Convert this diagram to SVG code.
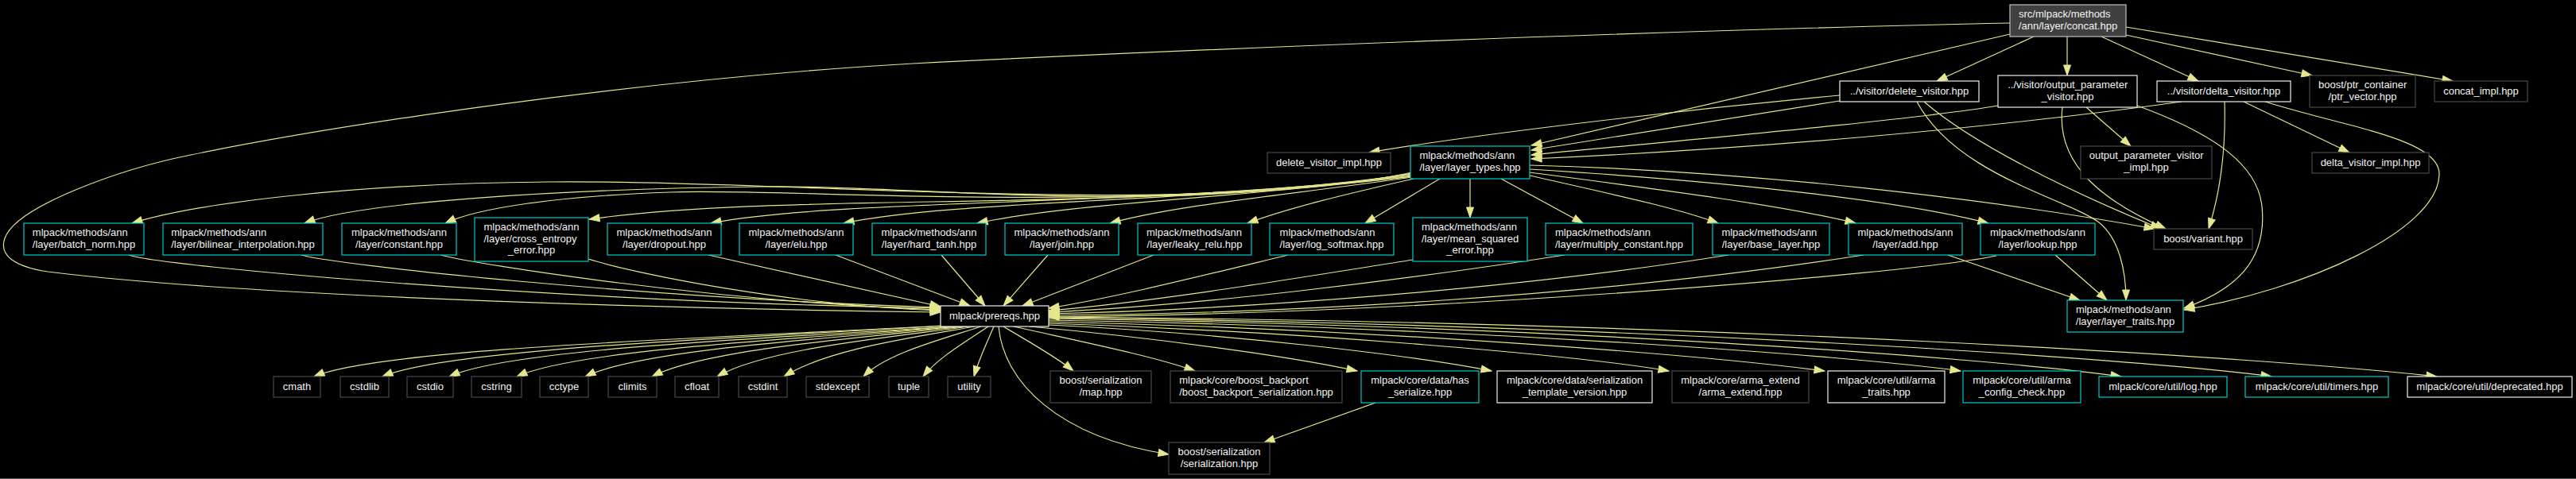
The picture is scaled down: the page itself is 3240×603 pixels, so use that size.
<svg xmlns="http://www.w3.org/2000/svg" width="3240" height="603" viewBox="0 0 3240 603">
<style>
text{font-family:"Liberation Sans",Arial,sans-serif;font-size:13px;fill:#f2f2f2}
.m{text-anchor:middle}
rect{fill:#000;stroke-width:1.2}
.cy{stroke:#00cccc}
.wh{stroke:#f0f0f0}
.dk{stroke:#484848}
.e{fill:none;stroke:#e6e68c;stroke-width:1.2;marker-end:url(#ah)}
</style>
<defs>
<marker id="ah" markerUnits="userSpaceOnUse" markerWidth="14" markerHeight="11" refX="13" refY="5" orient="auto" overflow="visible">
<path d="M0,0.5 L13,5 L0,9.5 z" fill="#e6e68c" stroke="#e6e68c" stroke-width="1"/>
</marker>
</defs>
<rect x="0" y="0" width="3240" height="603" style="fill:#000;stroke:none"/>
<line x1="0" y1="602.5" x2="3240" y2="602.5" stroke="#555" stroke-width="1"/>
<g id="edges">
<path class="e" d="M2528,29 C2100,38 1500,62 1148,80 C800,100 420,158 240,195 C150,213 20,260 6,300 C-2,322 20,336 60,342 C300,372 800,388 1183,393"/>
<path class="e" d="M2528,43 L1926,183"/>
<path class="e" d="M2558,46 L2436,102"/>
<path class="e" d="M2600,46 L2600,95"/>
<path class="e" d="M2643,46 L2765,102"/>
<path class="e" d="M2674,44 L2908,95"/>
<path class="e" d="M2674,34 L3085,102"/>
<path class="e" d="M2314,127 L1926,189"/>
<path class="e" d="M2314,120 C2100,140 1850,170 1722,192"/>
<path class="e" d="M2513,133 C2400,152 2100,178 1926,195"/>
<path class="e" d="M2744,128 C2500,162 2200,188 1926,200"/>
<path class="e" d="M2420,128 C2480,180 2600,240 2718,288"/>
<path class="e" d="M2411,128 C2460,220 2600,250 2640,280 C2665,300 2674,340 2674,378"/>
<path class="e" d="M2594,135 C2585,210 2650,255 2724,288"/>
<path class="e" d="M2688,133 C2790,170 2840,210 2845,260 C2852,330 2810,365 2747,388"/>
<path class="e" d="M2624,135 L2680,184"/>
<path class="e" d="M2822,128 L2955,192"/>
<path class="e" d="M2798,128 C2800,200 2790,250 2778,288"/>
<path class="e" d="M2849,128 C2950,160 3070,175 3068,220 C3066,290 2900,365 2747,390"/>
<path class="e" d="M1924,208 C2200,215 2500,250 2710,288"/>
<path class="e" d="M1924,213 C2200,230 2400,255 2501,281"/>
<path class="e" d="M1924,217 C2100,240 2250,260 2334,281"/>
<path class="e" d="M1924,221 C2030,245 2110,262 2161,281"/>
<path class="e" d="M1888,225 L1991,281"/>
<path class="e" d="M1849,225 L1849,274"/>
<path class="e" d="M1811,225 L1717,281"/>
<path class="e" d="M1778,225 C1690,245 1620,262 1569,281"/>
<path class="e" d="M1776,223 C1600,248 1480,258 1396,281"/>
<path class="e" d="M1776,222 C1550,250 1350,255 1229,281"/>
<path class="e" d="M1776,222 C1500,255 1200,252 1061,281"/>
<path class="e" d="M1776,221 C1450,260 1050,250 894,281"/>
<path class="e" d="M1776,220 C1400,270 1000,240 741,276"/>
<path class="e" d="M1776,219 C1400,272 1000,236 842,242 C700,247 600,262 560,281"/>
<path class="e" d="M1776,218 C1450,274 1150,232 960,235 C700,238 450,255 383,281"/>
<path class="e" d="M1776,217 C1500,275 1000,226 689,229 C450,231 250,255 166,281"/>
<path class="e" d="M162,321 C200,335 700,380 1183,388"/>
<path class="e" d="M379,321 C420,333 800,375 1183,387"/>
<path class="e" d="M554,321 C600,333 900,380 1183,390"/>
<path class="e" d="M740,326 C800,345 1000,385 1183,391"/>
<path class="e" d="M891,321 L1183,386"/>
<path class="e" d="M1051,321 L1220,385"/>
<path class="e" d="M1184,321 L1239,385"/>
<path class="e" d="M1318,321 L1262,385"/>
<path class="e" d="M1451,321 L1286,385"/>
<path class="e" d="M1620,321 C1500,350 1400,375 1319,388"/>
<path class="e" d="M1777,327 C1600,355 1450,380 1319,391"/>
<path class="e" d="M1968,321 C1750,355 1500,385 1319,393"/>
<path class="e" d="M2174,321 C1900,365 1550,390 1319,395"/>
<path class="e" d="M2344,321 C2000,375 1600,395 1319,397"/>
<path class="e" d="M2511,322 C2400,345 1800,395 1319,399"/>
<path class="e" d="M2450,321 L2616,378"/>
<path class="e" d="M2585,321 L2650,378"/>
<path class="e" d="M1186,410 C909,425 480,438 395,474"/>
<path class="e" d="M1190,410 C942,425 566,438 481,474"/>
<path class="e" d="M1195,411 C975,426 645,438 565,474"/>
<path class="e" d="M1200,411 C1008,426 725,440 650,474"/>
<path class="e" d="M1206,411 C1042,426 806,440 736,474"/>
<path class="e" d="M1212,411 C1075,426 885,440 820,474"/>
<path class="e" d="M1219,411 C1108,426 960,440 902,474"/>
<path class="e" d="M1226,411 C1142,426 1040,440 986,474"/>
<path class="e" d="M1234,411 C1182,428 1115,445 1086,474"/>
<path class="e" d="M1243,411 C1215,430 1180,450 1161,474"/>
<path class="e" d="M1250,411 C1242,430 1232,450 1225,474"/>
<path class="e" d="M1256,411 C1262,480 1330,550 1470,572"/>
<path class="e" d="M1262,411 C1290,428 1330,450 1350,467"/>
<path class="e" d="M1275,411 C1350,428 1450,448 1503,467"/>
<path class="e" d="M1295,411 C1450,425 1620,448 1707,467"/>
<path class="e" d="M1319,409 C1550,420 1780,448 1876,467"/>
<path class="e" d="M1319,407 C1650,418 1990,448 2099,467"/>
<path class="e" d="M1319,405 C1750,415 2150,448 2295,467"/>
<path class="e" d="M1319,403 C1850,412 2330,448 2466,467"/>
<path class="e" d="M1319,401 C1950,410 2500,450 2668,474"/>
<path class="e" d="M1319,400 C2050,408 2700,452 2857,474"/>
<path class="e" d="M1319,399 C2150,405 2850,450 3065,474"/>
<path class="e" d="M1730,507 L1590,557"/>
</g>
<g id="n_concat"><rect x="2528" y="6" width="146" height="40" style="fill:#404040;stroke:#c0c0c0"/><text x="2539" y="22.3">src/mlpack/methods</text><text class="m" x="2601" y="36.6">/ann/layer/concat.hpp</text></g>
<g id="n_delete_visitor"><rect class="wh" x="2314" y="102" width="175" height="26"/><text class="m" x="2401.5" y="119">../visitor/delete_visitor.hpp</text></g>
<g id="n_output_parameter_visitor"><rect class="wh" x="2513" y="95" width="175" height="40"/><text x="2525.2" y="111.3">../visitor/output_parameter</text><text class="m" x="2600.5" y="125.6">_visitor.hpp</text></g>
<g id="n_delta_visitor"><rect class="wh" x="2713" y="102" width="168" height="26"/><text class="m" x="2797" y="119">../visitor/delta_visitor.hpp</text></g>
<g id="n_ptr_vector"><rect class="dk" x="2905" y="95" width="133" height="40"/><text x="2916" y="111.3">boost/ptr_container</text><text class="m" x="2971.5" y="125.6">/ptr_vector.hpp</text></g>
<g id="n_concat_impl"><rect class="dk" x="3062" y="102" width="117" height="26"/><text class="m" x="3120.5" y="119">concat_impl.hpp</text></g>
<g id="n_delete_visitor_impl"><rect class="dk" x="1594" y="192" width="155" height="26"/><text class="m" x="1671.5" y="209">delete_visitor_impl.hpp</text></g>
<g id="n_layer_types"><rect class="cy" x="1774" y="184" width="150" height="41"/><text x="1785.4" y="200.3">mlpack/methods/ann</text><text class="m" x="1849" y="214.6">/layer/layer_types.hpp</text></g>
<g id="n_output_parameter_visitor_impl"><rect class="dk" x="2617" y="184" width="165" height="41"/><text x="2627.8" y="200.3">output_parameter_visitor</text><text class="m" x="2699.5" y="214.6">_impl.hpp</text></g>
<g id="n_delta_visitor_impl"><rect class="dk" x="2908" y="192" width="147" height="26"/><text class="m" x="2981.5" y="209">delta_visitor_impl.hpp</text></g>
<g id="n_batch_norm"><rect class="cy" x="30" y="281" width="151" height="40"/><text x="40.8" y="297.3">mlpack/methods/ann</text><text class="m" x="105.5" y="311.6">/layer/batch_norm.hpp</text></g>
<g id="n_bilinear"><rect class="cy" x="205" y="281" width="201" height="40"/><text x="215.2" y="297.3">mlpack/methods/ann</text><text class="m" x="305.5" y="311.6">/layer/bilinear_interpolation.hpp</text></g>
<g id="n_constant"><rect class="cy" x="430" y="281" width="144" height="40"/><text x="442" y="297.3">mlpack/methods/ann</text><text class="m" x="502" y="311.6">/layer/constant.hpp</text></g>
<g id="n_cross_entropy"><rect class="cy" x="597" y="274" width="143" height="55"/><text x="608.5" y="290.3">mlpack/methods/ann</text><text x="608.5" y="304.6">/layer/cross_entropy</text><text class="m" x="668.5" y="318.9">_error.hpp</text></g>
<g id="n_dropout"><rect class="cy" x="764" y="281" width="143" height="40"/><text x="775.5" y="297.3">mlpack/methods/ann</text><text class="m" x="835.5" y="311.6">/layer/dropout.hpp</text></g>
<g id="n_elu"><rect class="cy" x="930" y="281" width="143" height="40"/><text x="941.5" y="297.3">mlpack/methods/ann</text><text class="m" x="1001.5" y="311.6">/layer/elu.hpp</text></g>
<g id="n_hard_tanh"><rect class="cy" x="1097" y="281" width="143" height="40"/><text x="1108.5" y="297.3">mlpack/methods/ann</text><text class="m" x="1168.5" y="311.6">/layer/hard_tanh.hpp</text></g>
<g id="n_join"><rect class="cy" x="1264" y="281" width="143" height="40"/><text x="1275.5" y="297.3">mlpack/methods/ann</text><text class="m" x="1335.5" y="311.6">/layer/join.hpp</text></g>
<g id="n_leaky_relu"><rect class="cy" x="1431" y="281" width="143" height="40"/><text x="1442" y="297.3">mlpack/methods/ann</text><text class="m" x="1502.5" y="311.6">/layer/leaky_relu.hpp</text></g>
<g id="n_log_softmax"><rect class="cy" x="1597" y="281" width="156" height="40"/><text x="1609.6" y="297.3">mlpack/methods/ann</text><text class="m" x="1675" y="311.6">/layer/log_softmax.hpp</text></g>
<g id="n_mean_squared"><rect class="cy" x="1777" y="274" width="144" height="55"/><text x="1788" y="290.3">mlpack/methods/ann</text><text x="1788" y="304.6">/layer/mean_squared</text><text class="m" x="1849" y="318.9">_error.hpp</text></g>
<g id="n_multiply_constant"><rect class="cy" x="1944" y="281" width="185" height="40"/><text x="1956" y="297.3">mlpack/methods/ann</text><text class="m" x="2036.5" y="311.6">/layer/multiply_constant.hpp</text></g>
<g id="n_base_layer"><rect class="cy" x="2154" y="281" width="147" height="40"/><text x="2165.4" y="297.3">mlpack/methods/ann</text><text class="m" x="2227.5" y="311.6">/layer/base_layer.hpp</text></g>
<g id="n_add"><rect class="cy" x="2325" y="281" width="143" height="40"/><text x="2336.5" y="297.3">mlpack/methods/ann</text><text class="m" x="2396.5" y="311.6">/layer/add.hpp</text></g>
<g id="n_lookup"><rect class="cy" x="2491" y="281" width="144" height="40"/><text x="2503" y="297.3">mlpack/methods/ann</text><text class="m" x="2563" y="311.6">/layer/lookup.hpp</text></g>
<g id="n_variant"><rect class="dk" x="2709" y="288" width="124" height="26"/><text class="m" x="2771" y="305">boost/variant.hpp</text></g>
<g id="n_prereqs"><rect class="wh" x="1183" y="385" width="136" height="26"/><text class="m" x="1251" y="402">mlpack/prereqs.hpp</text></g>
<g id="n_layer_traits"><rect class="cy" x="2600" y="378" width="146" height="40"/><text x="2610.9" y="394.3">mlpack/methods/ann</text><text class="m" x="2673" y="408.6">/layer/layer_traits.hpp</text></g>
<g id="n_cmath"><rect class="dk" x="344" y="474" width="59" height="26"/><text class="m" x="373.5" y="491">cmath</text></g>
<g id="n_cstdlib"><rect class="dk" x="428" y="474" width="61" height="26"/><text class="m" x="458.5" y="491">cstdlib</text></g>
<g id="n_cstdio"><rect class="dk" x="512" y="474" width="58" height="26"/><text class="m" x="541" y="491">cstdio</text></g>
<g id="n_cstring"><rect class="dk" x="593" y="474" width="63" height="26"/><text class="m" x="624.5" y="491">cstring</text></g>
<g id="n_cctype"><rect class="dk" x="679" y="474" width="61" height="26"/><text class="m" x="709.5" y="491">cctype</text></g>
<g id="n_climits"><rect class="dk" x="765" y="474" width="61" height="26"/><text class="m" x="795.5" y="491">climits</text></g>
<g id="n_cfloat"><rect class="dk" x="849" y="474" width="55" height="26"/><text class="m" x="876.5" y="491">cfloat</text></g>
<g id="n_cstdint"><rect class="dk" x="929" y="474" width="61" height="26"/><text class="m" x="959.5" y="491">cstdint</text></g>
<g id="n_stdexcept"><rect class="dk" x="1014" y="474" width="79" height="26"/><text class="m" x="1053.5" y="491">stdexcept</text></g>
<g id="n_tuple"><rect class="dk" x="1118" y="474" width="50" height="26"/><text class="m" x="1143" y="491">tuple</text></g>
<g id="n_utility"><rect class="dk" x="1192" y="474" width="54" height="26"/><text class="m" x="1219" y="491">utility</text></g>
<g id="n_map"><rect class="dk" x="1321" y="467" width="127" height="40"/><text x="1332.5" y="483.3">boost/serialization</text><text class="m" x="1384.5" y="497.6">/map.hpp</text></g>
<g id="n_boost_backport"><rect class="dk" x="1472" y="467" width="216" height="40"/><text x="1483.2" y="483.3">mlpack/core/boost_backport</text><text class="m" x="1580" y="497.6">/boost_backport_serialization.hpp</text></g>
<g id="n_has_serialize"><rect class="cy" x="1712" y="467" width="148" height="40"/><text x="1724.2" y="483.3">mlpack/core/data/has</text><text class="m" x="1786" y="497.6">_serialize.hpp</text></g>
<g id="n_serialization_template_version"><rect class="wh" x="1883" y="467" width="195" height="40"/><text x="1894.9" y="483.3">mlpack/core/data/serialization</text><text class="m" x="1980.5" y="497.6">_template_version.hpp</text></g>
<g id="n_arma_extend"><rect class="dk" x="2103" y="467" width="172" height="40"/><text x="2114.2" y="483.3">mlpack/core/arma_extend</text><text class="m" x="2189" y="497.6">/arma_extend.hpp</text></g>
<g id="n_arma_traits"><rect class="wh" x="2299" y="467" width="147" height="40"/><text x="2310.7" y="483.3">mlpack/core/util/arma</text><text class="m" x="2372.5" y="497.6">_traits.hpp</text></g>
<g id="n_arma_config_check"><rect class="cy" x="2469" y="467" width="148" height="40"/><text x="2481.2" y="483.3">mlpack/core/util/arma</text><text class="m" x="2543" y="497.6">_config_check.hpp</text></g>
<g id="n_log"><rect class="cy" x="2640" y="474" width="161" height="26"/><text class="m" x="2720.5" y="491">mlpack/core/util/log.hpp</text></g>
<g id="n_timers"><rect class="cy" x="2824" y="474" width="180" height="26"/><text class="m" x="2914" y="491">mlpack/core/util/timers.hpp</text></g>
<g id="n_deprecated"><rect class="wh" x="3028" y="474" width="207" height="26"/><text class="m" x="3131.5" y="491">mlpack/core/util/deprecated.hpp</text></g>
<g id="n_serialization"><rect class="dk" x="1470" y="557" width="127" height="40"/><text x="1481.5" y="573.3">boost/serialization</text><text class="m" x="1533.5" y="587.6">/serialization.hpp</text></g>
</svg>
